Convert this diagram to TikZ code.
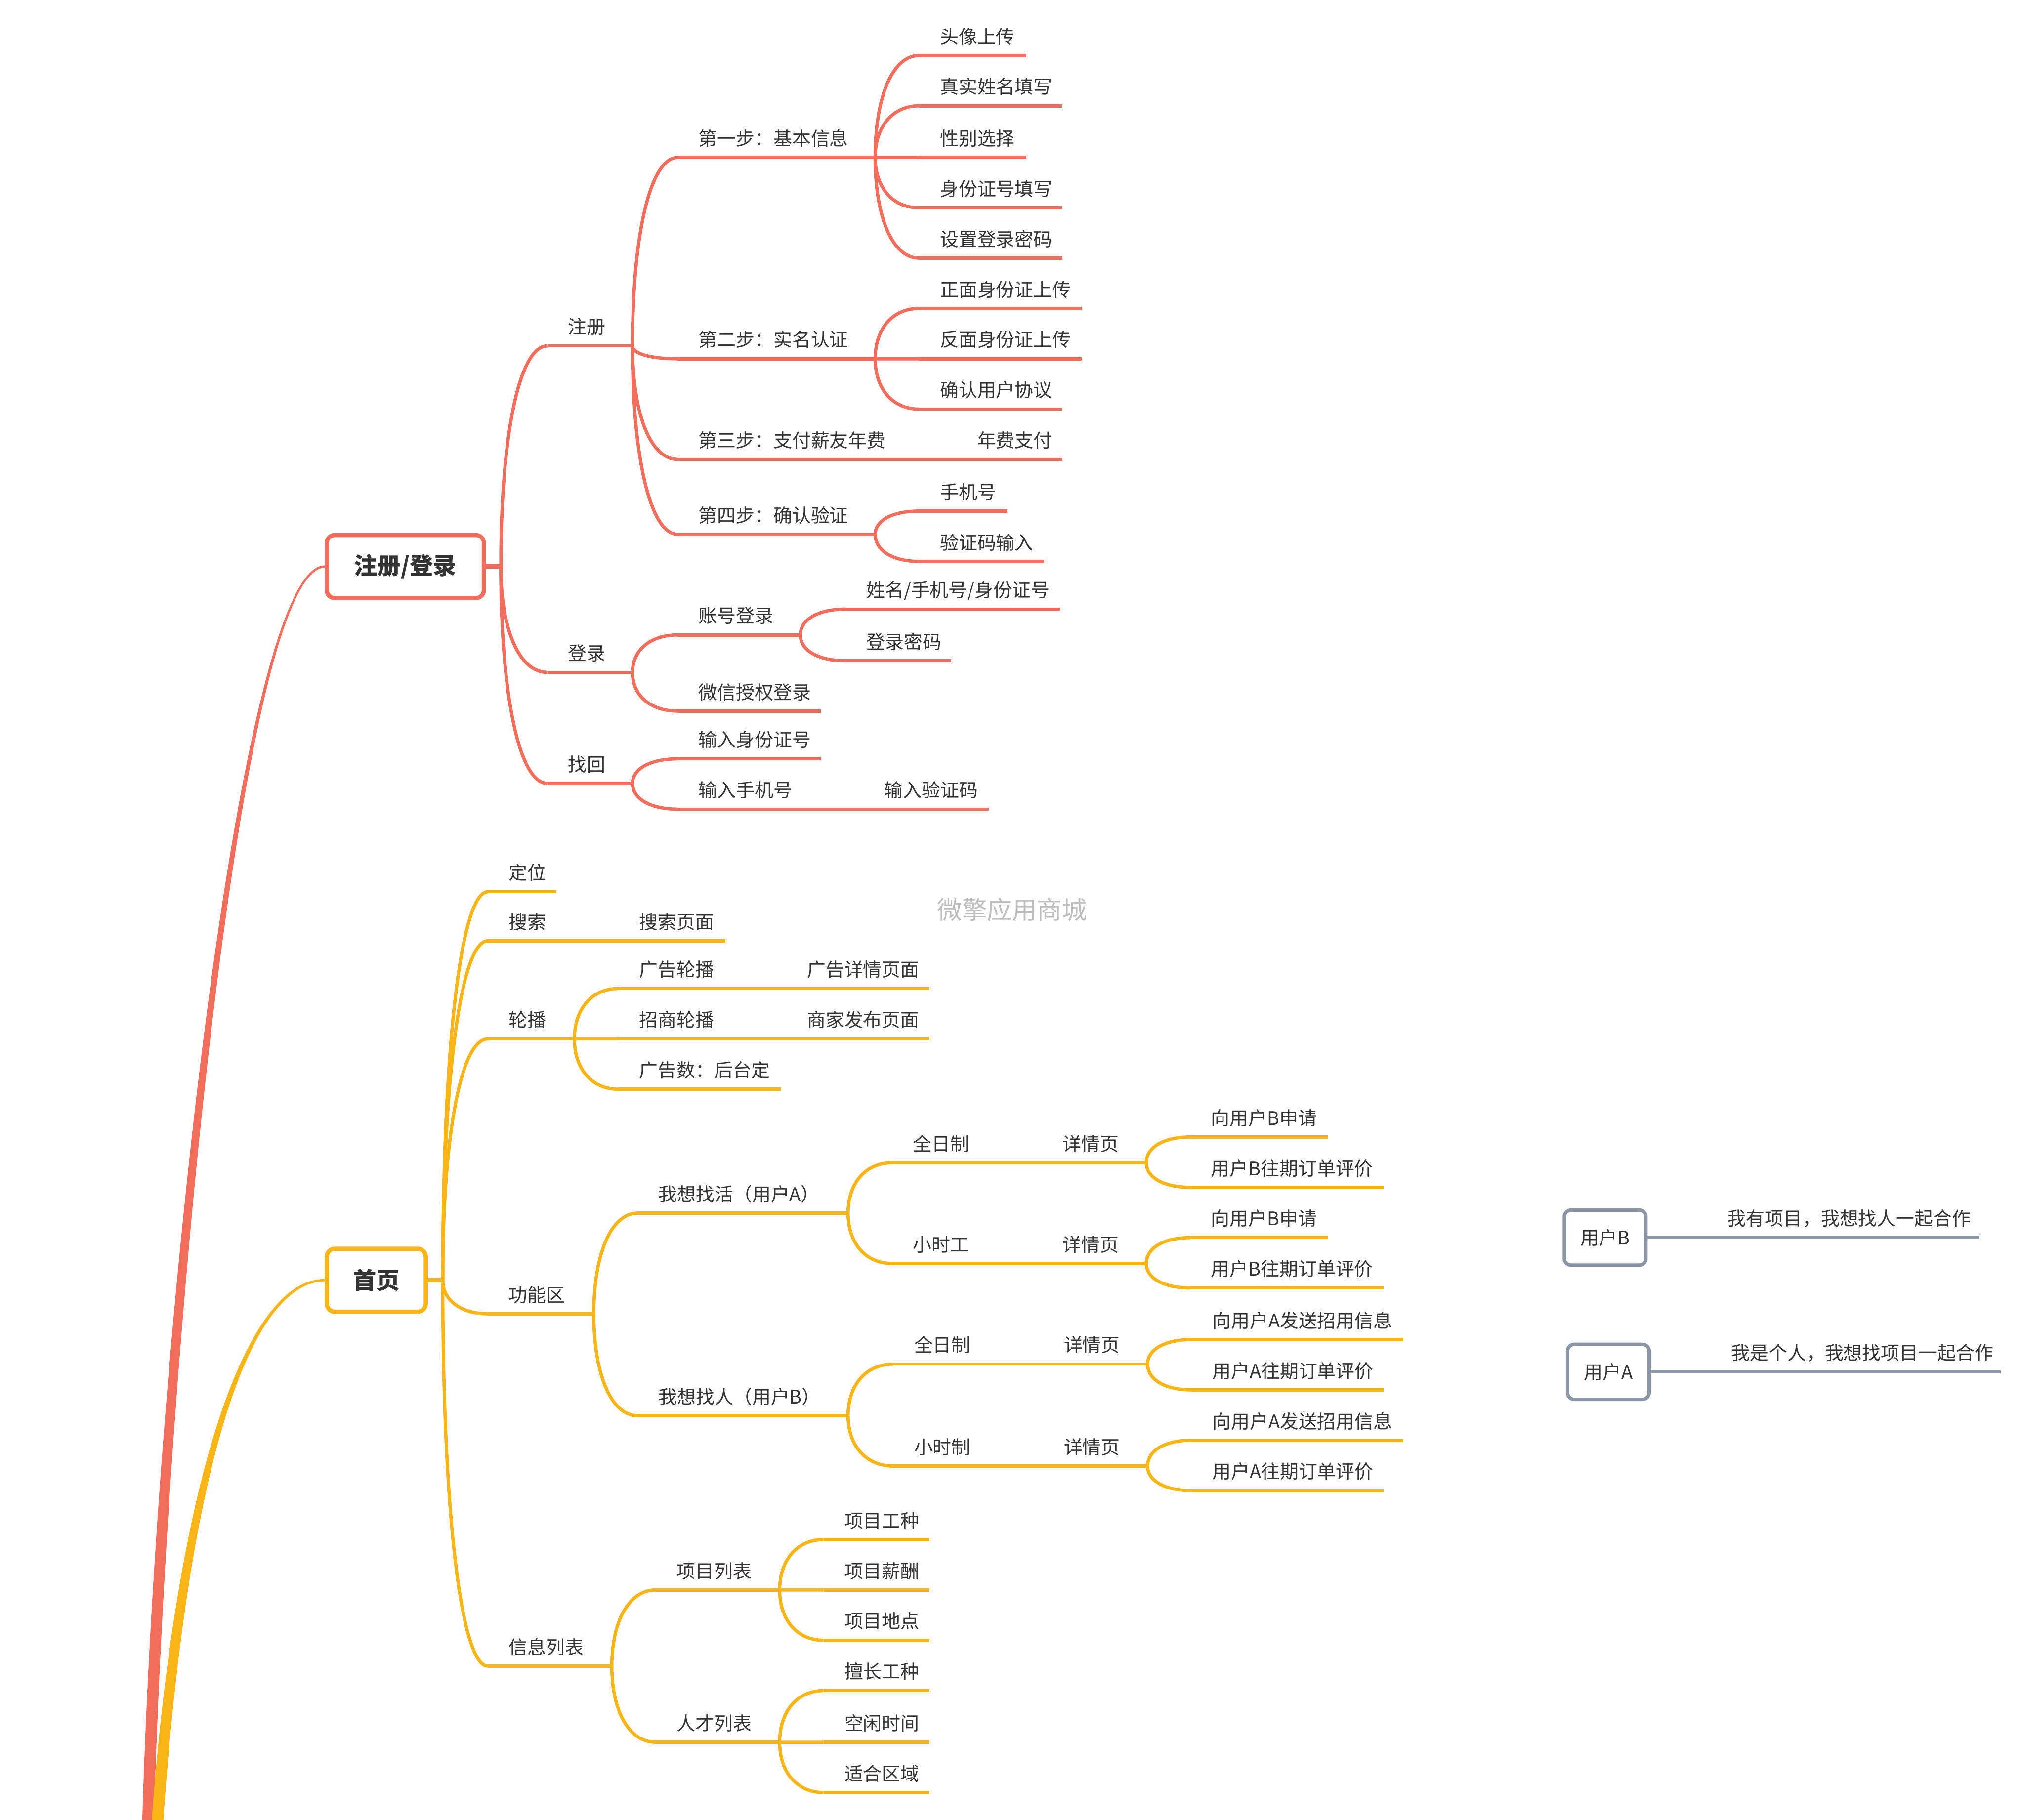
\documentclass[tikz,border=0pt]{standalone}
\usepackage{fontspec}
\setmainfont{Noto Sans CJK SC}
\usetikzlibrary{calc,backgrounds}
\definecolor{regc}{HTML}{F26D5B}
\definecolor{homc}{HTML}{F9B416}
\definecolor{usrc}{HTML}{8A96A5}
\definecolor{txt}{HTML}{333333}
\definecolor{wmk}{HTML}{BDBDBD}

\begin{document}
\begin{tikzpicture}[x=0.2909mm,y=-0.2909mm,
lbl/.style={anchor=base west,inner sep=0pt,xshift=4.35mm,yshift=2.7mm,text=txt,font=\fontsize{12}{14}\selectfont},
rl/.style={draw=regc,line width=2.1pt},
yl/.style={draw=homc,line width=2.1pt},
gl/.style={draw=usrc,line width=2.1pt},
br/.style={to path={.. controls ($(\tikztostart)!.6!(\tikztostart|-\tikztotarget)$) and ($(\tikztotarget)!.6!(\tikztostart|-\tikztotarget)$) .. (\tikztotarget)}},
mainbox/.style={draw=#1,line width=2.7pt,rounded corners=1.8mm,fill=white,minimum height=14.2mm,text=txt,font=\fontsize{15}{18}\selectfont\bfseries},
userbox/.style={draw=usrc,line width=2.2pt,rounded corners=1.5mm,fill=white,minimum width=18.4mm,minimum height=12.4mm,text=txt,font=\fontsize{12}{14}\selectfont}]
\useasboundingbox (0,0) rectangle (1568,1410);

% root branches, coming in from below
\node[mainbox=regc,minimum width=35.4mm] (reg) at (314,439) {注册/登录};
\node[mainbox=homc,minimum width=22.3mm] (home) at (291.5,992) {首页};
\begin{scope}[on background layer]
\fill[regc] (110,1418) .. controls (120,1050) and (185,437) .. ([yshift=.25mm]reg.west) -- ([yshift=-.25mm]reg.west) .. controls (186,442) and (129,1050) .. (119,1418) -- cycle;
\fill[homc] (117,1418) .. controls (136,1150) and (190,990) .. ([yshift=.25mm]home.west) -- ([yshift=-.25mm]home.west) .. controls (190,994) and (144,1150) .. (126,1418) -- cycle;
\end{scope}

% 注册/登录
\coordinate (regsp) at (388,439);
\draw[rl,line width=2.8pt] (reg.east) -- (regsp);
\draw[rl] (424,268) coordinate (zc) -- node[lbl,pos=0] (zct) {注册} (490,268) coordinate (zce);
\draw[rl] (424,521) coordinate (dl) -- node[lbl,pos=0] (dlt) {登录} (490,521) coordinate (dle);
\draw[rl] (424,607) coordinate (zh) -- node[lbl,pos=0] (zht) {找回} (490,607) coordinate (zhe);
\draw[rl] (regsp) edge[br] (zc) edge[br] (dl) edge[br] (zh);

\draw[rl] (525,122) coordinate (s1) -- node[lbl,pos=0] (s1t) {第一步：基本信息} (678,122) coordinate (s1e);
\draw[rl] (525,278) coordinate (s2) -- node[lbl,pos=0] (s2t) {第二步：实名认证} (678,278) coordinate (s2e);
\draw[rl] (525,356) coordinate (s3) -- node[lbl,pos=0] (s3t) {第三步：支付薪友年费} (706,356) coordinate (s3e);
\draw[rl] (525,414) coordinate (s4) -- node[lbl,pos=0] (s4t) {第四步：确认验证} (678,414) coordinate (s4e);
\draw[rl] (zce) edge[br] (s1) edge[br] (s2) edge[br] (s3) edge[br] (s4);

\draw[rl] (712,43) coordinate (a1) -- node[lbl,pos=0] (a1t) {头像上传} (795,43);
\draw[rl] (712,82) coordinate (a2) -- node[lbl,pos=0] (a2t) {真实姓名填写} (823,82);
\draw[rl] (712,122) coordinate (a3) -- node[lbl,pos=0] (a3t) {性别选择} (795,122);
\draw[rl] (712,161) coordinate (a4) -- node[lbl,pos=0] (a4t) {身份证号填写} (823,161);
\draw[rl] (712,200) coordinate (a5) -- node[lbl,pos=0] (a5t) {设置登录密码} (823,200);
\draw[rl] (s1e) edge[br] (a1) edge[br] (a2) edge[br] (a3) edge[br] (a4) edge[br] (a5);

\draw[rl] (712,239) coordinate (b1) -- node[lbl,pos=0] (b1t) {正面身份证上传} (838,239);
\draw[rl] (712,278) coordinate (b2) -- node[lbl,pos=0] (b2t) {反面身份证上传} (838,278);
\draw[rl] (712,317) coordinate (b3) -- node[lbl,pos=0] (b3t) {确认用户协议} (823,317);
\draw[rl] (s2e) edge[br] (b1) edge[br] (b2) edge[br] (b3);

\draw[rl] (741,356) coordinate (c1) -- node[lbl,pos=0] (c1t) {年费支付} (823,356);
\draw[rl] (s3e) -- (c1);

\draw[rl] (712,396) coordinate (d1) -- node[lbl,pos=0] (d1t) {手机号} (780,396);
\draw[rl] (712,435) coordinate (d2) -- node[lbl,pos=0] (d2t) {验证码输入} (809,435);
\draw[rl] (s4e) edge[br] (d1) edge[br] (d2);

\draw[rl] (525,492) coordinate (e1) -- node[lbl,pos=0] (e1t) {账号登录} (620,492) coordinate (e1e);
\draw[rl] (525,551) coordinate (e2) -- node[lbl,pos=0] (e2t) {微信授权登录} (636,551);
\draw[rl] (dle) edge[br] (e1) edge[br] (e2);
\draw[rl] (655,472) coordinate (e1a) -- node[lbl,pos=0] (e1at) {姓名/手机号/身份证号} (821,472);
\draw[rl] (655,512) coordinate (e1b) -- node[lbl,pos=0] (e1bt) {登录密码} (737,512);
\draw[rl] (e1e) edge[br] (e1a) edge[br] (e1b);

\draw[rl] (525,588) coordinate (f1) -- node[lbl,pos=0] (f1t) {输入身份证号} (636,588);
\draw[rl] (525,627) coordinate (f2) -- node[lbl,pos=0] (f2t) {输入手机号} (634,627) coordinate (f2e);
\draw[rl] (zhe) edge[br] (f1) edge[br] (f2);
\draw[rl] (669,627) coordinate (f2a) -- node[lbl,pos=0] (f2at) {输入验证码} (766,627);
\draw[rl] (f2e) -- (f2a);

% 首页
\coordinate (homsp) at (343,992);
\draw[yl,line width=2.8pt] (home.east) -- (homsp);
\draw[yl] (378,691) coordinate (dw) -- node[lbl,pos=0] (dwt) {定位} (431,691);
\draw[yl] (378,729) coordinate (ss) -- node[lbl,pos=0] (sst) {搜索} (444,729) coordinate (sse);
\draw[yl] (378,805) coordinate (lb) -- node[lbl,pos=0] (lbt) {轮播} (445,805) coordinate (lbe);
\draw[yl] (378,1018) coordinate (gn) -- node[lbl,pos=0] (gnt) {功能区} (460,1018) coordinate (gne);
\draw[yl] (378,1291) coordinate (xx) -- node[lbl,pos=0] (xxt) {信息列表} (474,1291) coordinate (xxe);
\draw[yl] (homsp) edge[br] (dw) edge[br] (ss) edge[br] (lb) edge[br] (gn) edge[br] (xx);

\draw[yl] (479,729) coordinate (ss1) -- node[lbl,pos=0] (ss1t) {搜索页面} (562,729);
\draw[yl] (sse) -- (ss1);

\draw[yl] (479,766) coordinate (lb1) -- node[lbl,pos=0] (lb1t) {广告轮播} (574,766) coordinate (lb1e);
\draw[yl] (479,805) coordinate (lb2) -- node[lbl,pos=0] (lb2t) {招商轮播} (574,805) coordinate (lb2e);
\draw[yl] (479,844) coordinate (lb3) -- node[lbl,pos=0] (lb3t) {广告数：后台定} (605,844);
\draw[yl] (lbe) edge[br] (lb1) edge[br] (lb2) edge[br] (lb3);
\draw[yl] (609,766) coordinate (lb1a) -- node[lbl,pos=0] (lb1at) {广告详情页面} (720,766);
\draw[yl] (609,805) coordinate (lb2a) -- node[lbl,pos=0] (lb2at) {商家发布页面} (720,805);
\draw[yl] (lb1e) -- (lb1a);
\draw[yl] (lb2e) -- (lb2a);

\draw[yl] (494,940) coordinate (gA) -- node[lbl,pos=0] (gAt) {我想找活（用户A）} (657,940) coordinate (gAe);
\draw[yl] (494,1097) coordinate (gB) -- node[lbl,pos=0] (gBt) {我想找人（用户B）} (657,1097) coordinate (gBe);
\draw[yl] (gne) edge[br] (gA) edge[br] (gB);

\draw[yl] (691,901) coordinate (gA1) -- node[lbl,pos=0] (gA1t) {全日制} (772,901) coordinate (gA1e);
\draw[yl] (691,979) coordinate (gA2) -- node[lbl,pos=0] (gA2t) {小时工} (772,979) coordinate (gA2e);
\draw[yl] (gAe) edge[br] (gA1) edge[br] (gA2);
\draw[yl] (807,901) coordinate (gA1d) -- node[lbl,pos=0] (gA1dt) {详情页} (888,901) coordinate (gA1de);
\draw[yl] (807,979) coordinate (gA2d) -- node[lbl,pos=0] (gA2dt) {详情页} (888,979) coordinate (gA2de);
\draw[yl] (gA1e) -- (gA1d);
\draw[yl] (gA2e) -- (gA2d);
\draw[yl] (922,881) coordinate (gA1x) -- node[lbl,pos=0] (gA1xt) {向用户B申请} (1029,881);
\draw[yl] (922,920) coordinate (gA1y) -- node[lbl,pos=0] (gA1yt) {用户B往期订单评价} (1072,920);
\draw[yl] (gA1de) edge[br] (gA1x) edge[br] (gA1y);
\draw[yl] (922,959) coordinate (gA2x) -- node[lbl,pos=0] (gA2xt) {向用户B申请} (1029,959);
\draw[yl] (922,998) coordinate (gA2y) -- node[lbl,pos=0] (gA2yt) {用户B往期订单评价} (1072,998);
\draw[yl] (gA2de) edge[br] (gA2x) edge[br] (gA2y);

\draw[yl] (692,1057) coordinate (gB1) -- node[lbl,pos=0] (gB1t) {全日制} (773,1057) coordinate (gB1e);
\draw[yl] (692,1136) coordinate (gB2) -- node[lbl,pos=0] (gB2t) {小时制} (773,1136) coordinate (gB2e);
\draw[yl] (gBe) edge[br] (gB1) edge[br] (gB2);
\draw[yl] (808,1057) coordinate (gB1d) -- node[lbl,pos=0] (gB1dt) {详情页} (889,1057) coordinate (gB1de);
\draw[yl] (808,1136) coordinate (gB2d) -- node[lbl,pos=0] (gB2dt) {详情页} (889,1136) coordinate (gB2de);
\draw[yl] (gB1e) -- (gB1d);
\draw[yl] (gB2e) -- (gB2d);
\draw[yl] (923,1038) coordinate (gB1x) -- node[lbl,pos=0] (gB1xt) {向用户A发送招用信息} (1087,1038);
\draw[yl] (923,1077) coordinate (gB1y) -- node[lbl,pos=0] (gB1yt) {用户A往期订单评价} (1072,1077);
\draw[yl] (gB1de) edge[br] (gB1x) edge[br] (gB1y);
\draw[yl] (923,1116) coordinate (gB2x) -- node[lbl,pos=0] (gB2xt) {向用户A发送招用信息} (1087,1116);
\draw[yl] (923,1155) coordinate (gB2y) -- node[lbl,pos=0] (gB2yt) {用户A往期订单评价} (1072,1155);
\draw[yl] (gB2de) edge[br] (gB2x) edge[br] (gB2y);

\draw[yl] (508,1232) coordinate (xm) -- node[lbl,pos=0] (xmt) {项目列表} (604,1232) coordinate (xme);
\draw[yl] (508,1350) coordinate (rc) -- node[lbl,pos=0] (rct) {人才列表} (604,1350) coordinate (rce);
\draw[yl] (xxe) edge[br] (xm) edge[br] (rc);
\draw[yl] (638,1193) coordinate (xm1) -- node[lbl,pos=0] (xm1t) {项目工种} (720,1193);
\draw[yl] (638,1232) coordinate (xm2) -- node[lbl,pos=0] (xm2t) {项目薪酬} (720,1232);
\draw[yl] (638,1271) coordinate (xm3) -- node[lbl,pos=0] (xm3t) {项目地点} (720,1271);
\draw[yl] (xme) edge[br] (xm1) edge[br] (xm2) edge[br] (xm3);
\draw[yl] (638,1310) coordinate (rc1) -- node[lbl,pos=0] (rc1t) {擅长工种} (720,1310);
\draw[yl] (638,1350) coordinate (rc2) -- node[lbl,pos=0] (rc2t) {空闲时间} (720,1350);
\draw[yl] (638,1389) coordinate (rc3) -- node[lbl,pos=0] (rc3t) {适合区域} (720,1389);
\draw[yl] (rce) edge[br] (rc1) edge[br] (rc2) edge[br] (rc3);

% floating topics
\node[userbox] (ub) at (1243.5,959) {用户B};
\draw[gl] (1322,959) coordinate (ub1) -- node[lbl,pos=0] (ub1t) {我有项目，我想找人一起合作} (1533,959);
\draw[gl] (ub.east) -- (ub1);
\node[userbox] (ua) at (1246,1063) {用户A};
\draw[gl] (1325,1063) coordinate (ua1) -- node[lbl,pos=0] (ua1t) {我是个人，我想找项目一起合作} (1550,1063);
\draw[gl] (ua.east) -- (ua1);

\node[text=wmk,font=\fontsize{16}{19}\selectfont] (wm) at (784,705) {微擎应用商城};
\end{tikzpicture}
\end{document}
